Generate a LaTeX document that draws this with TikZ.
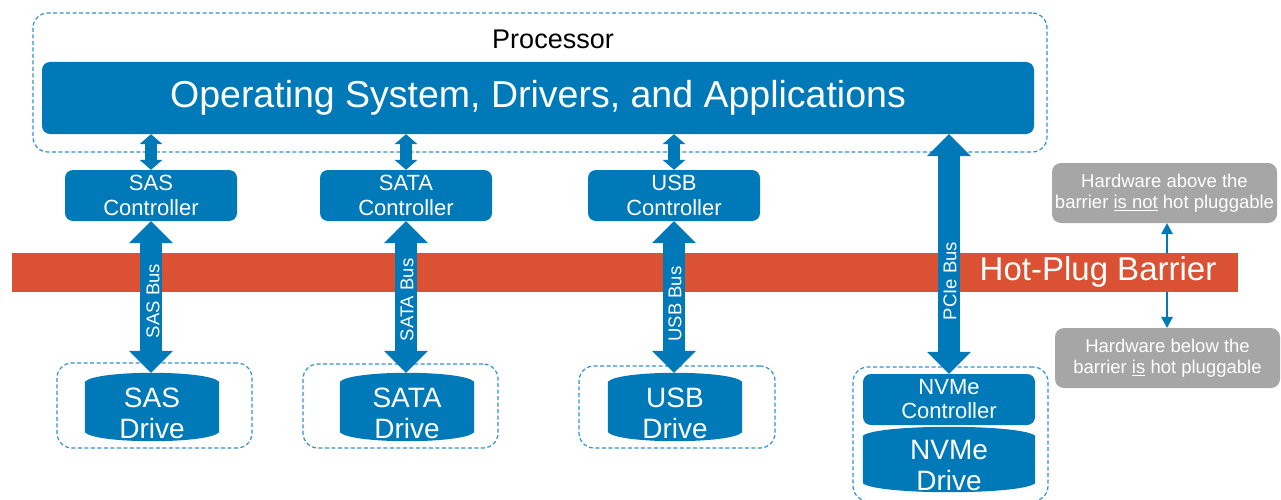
\documentclass[tikz,border=0pt]{standalone}
\usepackage{fontspec}
\setmainfont{Liberation Sans}
\usetikzlibrary{arrows.meta,calc,backgrounds}
\definecolor{dblue}{HTML}{0079B9}
\definecolor{lblue}{HTML}{3391CC}
\definecolor{barred}{HTML}{DA5233}
\definecolor{notegray}{HTML}{A6A6A6}

% filled drive cylinder behind a named node; #2 raises the body above the text
\newcommand\cylfill[2]{%
  \fill[dblue] let \p1=($(#1.north west)+(0,-#2)$), \p2=($(#1.south east)+(0,-#2)$),
      \n1={0.08*(\x2-\x1)} in
    (\x1,\y1-9pt) .. controls (\x1+\n1*1pt,\y1+3pt) and (\x2-\n1*1pt,\y1+3pt) .. (\x2,\y1-9pt)
    -- (\x2,\y2+9pt) .. controls (\x2-\n1*1pt,\y2-3pt) and (\x1+\n1*1pt,\y2-3pt) .. (\x1,\y2+9pt) -- cycle;}

\begin{document}
\begin{tikzpicture}[x=1pt,y=-1pt,
  dashbox/.style={draw=lblue, line width=1.2pt, dash pattern=on 4pt off 2.5pt,
    rounded corners=15pt, inner sep=0pt},
  bluebox/.style={fill=dblue, text=white, rounded corners=8pt, inner sep=0pt, align=center},
  ctrl/.style={bluebox, minimum width=172pt, minimum height=51pt,
    font=\fontsize{22}{25}\selectfont},
  drive/.style={inner sep=0pt, text=white, align=center, minimum width=134pt,
    font=\fontsize{28}{31}\selectfont},
  notebox/.style={fill=notegray, text=white, rounded corners=9pt, minimum width=225pt,
    minimum height=60pt, inner sep=0pt, align=center, font=\fontsize{18.5}{21}\selectfont},
  linkarrow/.style={draw=dblue, line width=12pt,
    {Triangle[length=10pt,width=23pt,line width=0pt]}-{Triangle[length=10pt,width=23pt,line width=0pt]}},
  busarrow/.style={draw=dblue, line width=22pt,
    {Triangle[length=22pt,width=44pt,line width=0pt]}-{Triangle[length=22pt,width=44pt,line width=0pt]}},
  notearrow/.style={draw=dblue, line width=1.5pt, -{Triangle[length=11pt,width=12pt,line width=0pt]}},
  buslabel/.style={text=white, rotate=90, font=\fontsize{18.5}{20}\selectfont, inner sep=0pt},
]
\useasboundingbox (0,0) rectangle (1281,500);
\begin{scope}[on background layer]
  \fill[white] (0,0) rectangle (1281,500);
\end{scope}

% processor
\node[dashbox, minimum width=1014pt, minimum height=139pt] (proc) at (540,82.5) {};
\node[font=\fontsize{27}{30}\selectfont] (proclabel) at (553,39) {Processor};
\node[bluebox, minimum width=992pt, minimum height=72pt, font=\fontsize{37.5}{40}\selectfont]
  (os) at (538,98) {Operating System, Drivers, and Applications};

% controllers
\node[ctrl] (sasc)  at (151,195.5) {SAS\\Controller};
\node[ctrl] (satac) at (406,195.5) {SATA\\Controller};
\node[ctrl] (usbc)  at (674,195.5) {USB\\Controller};

% hot-plug barrier
\node[fill=barred, minimum width=1226pt, minimum height=39pt, inner sep=0pt] (bar) at (625,272.5) {};
\node[text=white, font=\fontsize{33}{36}\selectfont] (barlabel) at (1098,272) {Hot-Plug Barrier};

% drive enclosures
\node[dashbox, minimum width=195pt, minimum height=85pt] (sasbox)  at (154.5,405.5) {};
\node[dashbox, minimum width=195pt, minimum height=84pt] (satabox) at (400.5,406) {};
\node[dashbox, minimum width=196pt, minimum height=82pt] (usbbox)  at (677,407) {};
\node[dashbox, minimum width=195pt, minimum height=134pt] (nvbox)  at (950.5,434) {};

% drives (text sits 6pt below the body centre)
\node[drive, minimum height=68pt] (sasd)  at (152,413) {SAS\\Drive};
\node[drive, minimum height=68pt] (satad) at (407,413) {SATA\\Drive};
\node[drive, minimum height=68pt] (usbd)  at (675,413) {USB\\Drive};
\node[bluebox, minimum width=172pt, minimum height=51pt, font=\fontsize{22}{24}\selectfont]
  (nvc) at (949,399.5) {NVMe\\Controller};
\node[drive, minimum width=172pt, minimum height=65pt] (nvd) at (949,465.5) {NVMe\\Drive};
\begin{scope}[on background layer]
  \cylfill{sasd}{6}
  \cylfill{satad}{6}
  \cylfill{usbd}{6}
  \cylfill{nvd}{6}
\end{scope}

% links between the operating system and the controllers
\draw[linkarrow] (sasc.north |- os.south) -- (sasc.north);
\draw[linkarrow] (satac.north |- os.south) -- (satac.north);
\draw[linkarrow] (usbc.north |- os.south) -- (usbc.north);

% buses
\draw[busarrow] (sasc.south) -- ($(sasc.south |- sasd.north)+(0,-6)$);
\draw[busarrow] (satac.south) -- ($(satac.south |- satad.north)+(0,-6)$);
\draw[busarrow] (usbc.south) -- ($(usbc.south |- usbd.north)+(0,-6)$);
\draw[busarrow] (os.south -| nvc.north) -- (nvc.north);
\node[buslabel] (sasbus)  at (153,301) {SAS Bus};
\node[buslabel] (satabus) at (407,300) {SATA Bus};
\node[buslabel] (usbbus)  at (675,304) {USB Bus};
\node[buslabel] (pcibus)  at (950,281) {PCIe Bus};

% notes
\node[notebox] (above) at (1164.5,193) {Hardware above the\\barrier \underline{is not} hot pluggable};
\node[notebox] (below) at (1167.5,358) {Hardware below the\\barrier \underline{is} hot pluggable};
\coordinate (nx) at (1167,0);
\draw[notearrow] (bar.north -| nx) -- (above.south -| nx);
\draw[notearrow] (bar.south -| nx) -- (below.north -| nx);
\end{tikzpicture}
\end{document}
